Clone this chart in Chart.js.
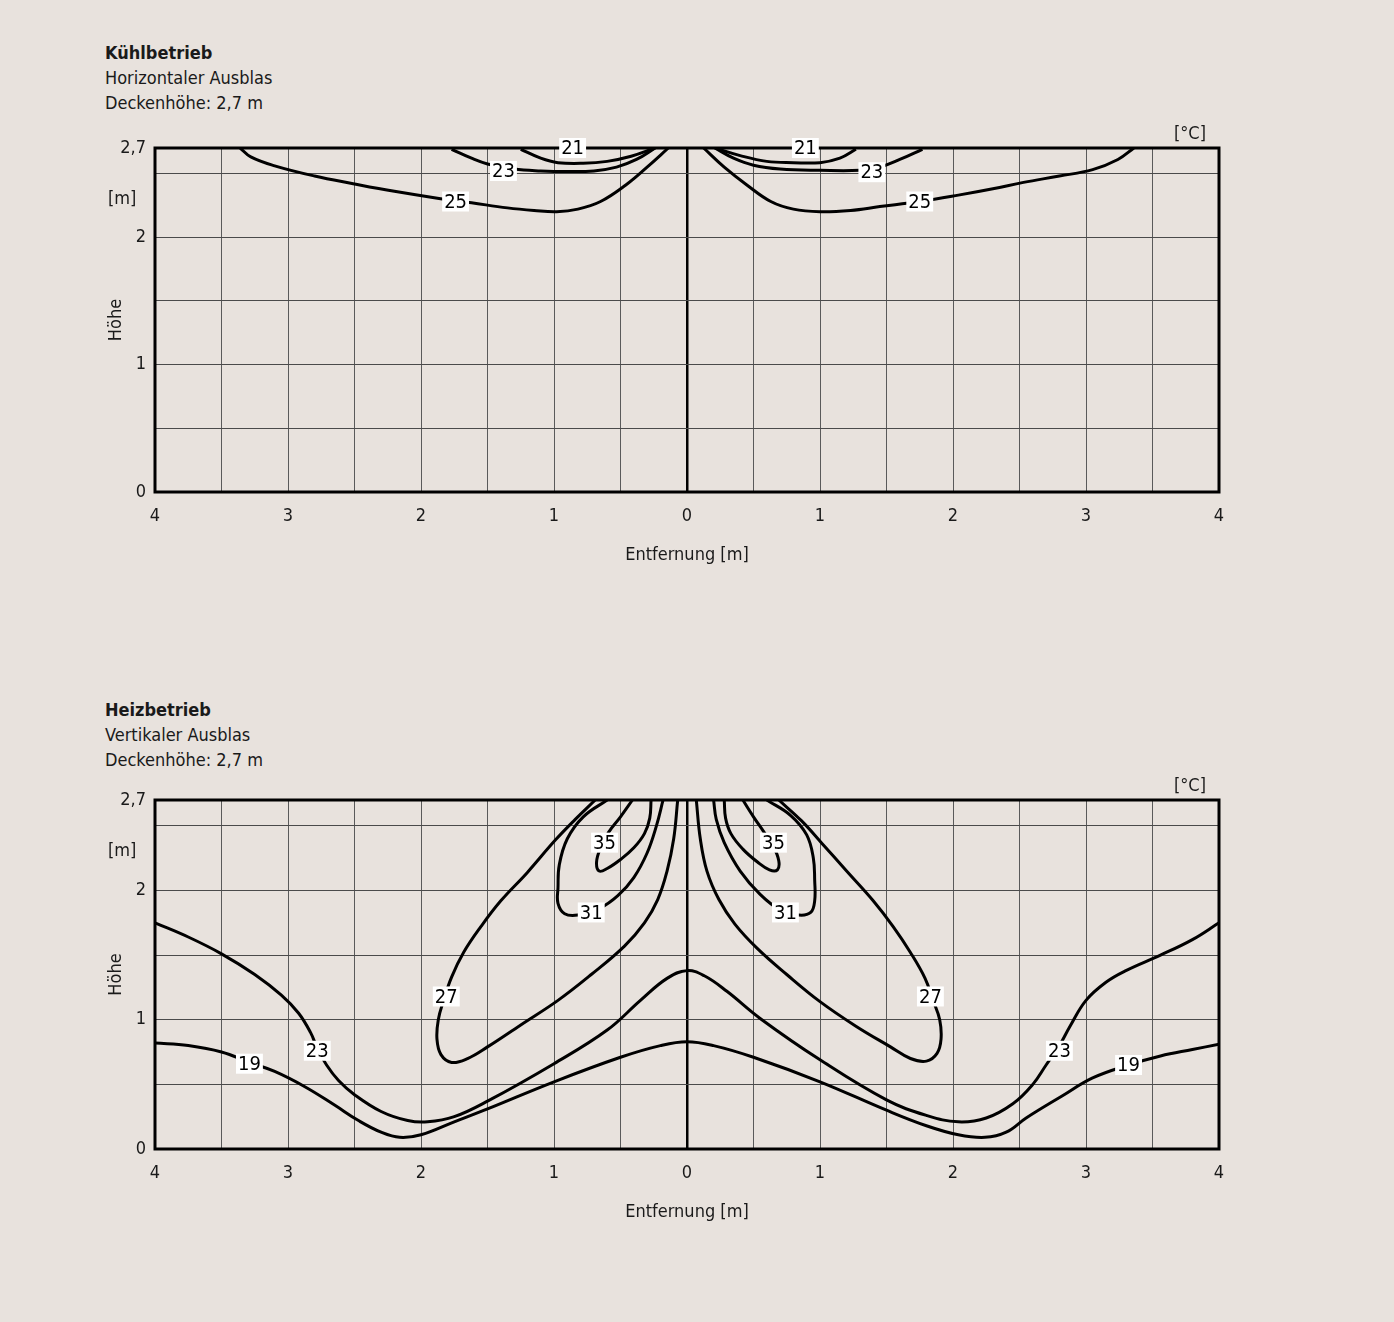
<!DOCTYPE html>
<html>
<head>
<meta charset="utf-8">
<script src="https://cdn.jsdelivr.net/npm/chart.js@4.4.1/dist/chart.umd.min.js"></script>
<style>
  body { margin: 0; background: #e8e2dd; width: 1394px; height: 1322px; position: relative; overflow: hidden;
         font-family: 'Liberation Sans Narrow', 'DejaVu Sans Condensed', 'Roboto', sans-serif; color: #1a1a1a; }
  .head { position: absolute; left: 105px; font-size: 18px; line-height: 25px; }
  .head b { font-weight: bold; }
  canvas { position: absolute; left: 0; }
</style>
</head>
<body>
<div class="head" style="top:40px"><b>Kühlbetrieb</b><br>Horizontaler Ausblas<br>Deckenhöhe: 2,7 m</div>
<canvas id="cool" width="1394" height="460" style="top:125px"></canvas>
<div class="head" style="top:697px"><b>Heizbetrieb</b><br>Vertikaler Ausblas<br>Deckenhöhe: 2,7 m</div>
<canvas id="heat" width="1394" height="465" style="top:777px"></canvas>
<script>
const FONT = "'Liberation Sans Narrow', 'DejaVu Sans Condensed', 'Roboto', sans-serif"

// axis ticks (metres)
const xTickValues = [-4, -3.5, -3, -2.5, -2, -1.5, -1, -0.5, 0, 0.5, 1, 1.5, 2, 2.5, 3, 3.5, 4]
const xTickLabels = ['4', '', '3', '', '2', '', '1', '', '0', '', '1', '', '2', '', '3', '', '4']
const yTickValues = [0, 0.5, 1, 1.5, 2, 2.5, 2.7]
const yTickLabels = ['0', '', '1', '', '2', '', '2,7']

// Kühlbetrieb isotherms [x, y]
const cool21Left = [[-1.25, 2.69], [-1.1, 2.62], [-0.97, 2.585], [-0.78, 2.58], [-0.6, 2.595], [-0.42, 2.635], [-0.24, 2.7]]
const cool23Left = [[-1.77, 2.69], [-1.62, 2.62], [-1.5, 2.575], [-1.3, 2.535], [-1.1, 2.52], [-0.9, 2.515], [-0.7, 2.52], [-0.53, 2.55], [-0.38, 2.61], [-0.24, 2.7]]
const cool25Left = [[-3.36, 2.7], [-3.28, 2.63], [-3.1, 2.56], [-2.8, 2.48], [-2.51, 2.42], [-2.2, 2.36], [-1.9, 2.31], [-1.62, 2.27], [-1.35, 2.23], [-1.15, 2.21], [-0.98, 2.2], [-0.82, 2.22], [-0.65, 2.28], [-0.46, 2.41], [-0.3, 2.55], [-0.14, 2.7]]
const cool21Right = [[0.21, 2.7], [0.4, 2.64], [0.6, 2.595], [0.8, 2.585], [1.0, 2.585], [1.15, 2.62], [1.27, 2.69]]
const cool23Right = [[0.21, 2.7], [0.35, 2.62], [0.5, 2.565], [0.7, 2.535], [1.0, 2.525], [1.3, 2.525], [1.45, 2.55], [1.6, 2.61], [1.77, 2.69]]
const cool25Right = [[0.125, 2.7], [0.28, 2.55], [0.45, 2.41], [0.63, 2.28], [0.8, 2.22], [1.0, 2.2], [1.23, 2.21], [1.45, 2.24], [1.75, 2.28], [2.04, 2.33], [2.3, 2.38], [2.53, 2.43], [2.8, 2.48], [3.05, 2.53], [3.24, 2.61], [3.36, 2.7]]
const coolLabels = [['21', -0.86, 2.7], ['23', -1.38, 2.52], ['25', -1.74, 2.28], ['21', 0.89, 2.7], ['23', 1.39, 2.51], ['25', 1.75, 2.28]]

// Heizbetrieb isotherms [x, y]
const heat35Left = [[-0.41, 2.7], [-0.5, 2.57], [-0.59, 2.45], [-0.65, 2.33], [-0.68, 2.22], [-0.66, 2.15], [-0.6, 2.17], [-0.5, 2.24], [-0.4, 2.33], [-0.32, 2.44], [-0.28, 2.56], [-0.27, 2.7]]
const heat35Right = [[0.28, 2.7], [0.29, 2.56], [0.33, 2.44], [0.42, 2.32], [0.53, 2.22], [0.62, 2.16], [0.68, 2.16], [0.69, 2.23], [0.65, 2.34], [0.58, 2.45], [0.5, 2.57], [0.42, 2.7]]
const heat31Left = [[-0.6, 2.7], [-0.78, 2.57], [-0.9, 2.4], [-0.96, 2.2], [-0.97, 2.02], [-0.97, 1.9], [-0.92, 1.82], [-0.82, 1.81], [-0.66, 1.86], [-0.52, 1.96], [-0.4, 2.1], [-0.3, 2.29], [-0.23, 2.5], [-0.18, 2.7]]
const heat31Right = [[0.2, 2.7], [0.22, 2.55], [0.28, 2.37], [0.4, 2.15], [0.55, 1.97], [0.7, 1.85], [0.84, 1.81], [0.93, 1.83], [0.96, 1.92], [0.96, 2.08], [0.95, 2.25], [0.9, 2.43], [0.78, 2.58], [0.6, 2.7]]
const heat27Left = [[-0.69, 2.7], [-0.84, 2.55], [-0.99, 2.39], [-1.2, 2.14], [-1.4, 1.92], [-1.55, 1.72], [-1.68, 1.52], [-1.77, 1.33], [-1.83, 1.15], [-1.87, 1.0], [-1.88, 0.85], [-1.85, 0.73], [-1.77, 0.67], [-1.65, 0.7], [-1.5, 0.79], [-1.25, 0.96], [-0.97, 1.15], [-0.72, 1.35], [-0.47, 1.57], [-0.32, 1.75], [-0.22, 1.93], [-0.15, 2.15], [-0.1, 2.4], [-0.07, 2.7]]
const heat27Right = [[0.07, 2.7], [0.1, 2.4], [0.15, 2.15], [0.24, 1.93], [0.36, 1.74], [0.53, 1.55], [0.75, 1.35], [1.0, 1.14], [1.27, 0.95], [1.53, 0.79], [1.68, 0.7], [1.8, 0.68], [1.88, 0.74], [1.91, 0.85], [1.9, 1.0], [1.85, 1.15], [1.79, 1.32], [1.68, 1.52], [1.55, 1.72], [1.4, 1.92], [1.2, 2.15], [1.01, 2.37], [0.86, 2.54], [0.69, 2.7]]
const heat23 = [[-4, 1.75], [-3.75, 1.64], [-3.5, 1.51], [-3.25, 1.35], [-3.05, 1.19], [-2.92, 1.05], [-2.83, 0.9], [-2.78, 0.78], [-2.71, 0.65], [-2.62, 0.53], [-2.5, 0.42], [-2.3, 0.29], [-2.1, 0.22], [-1.95, 0.21], [-1.75, 0.25], [-1.5, 0.37], [-1.0, 0.66], [-0.6, 0.92], [-0.35, 1.15], [-0.15, 1.32], [0, 1.38], [0.13, 1.34], [0.3, 1.22], [0.55, 1.01], [1.0, 0.69], [1.5, 0.38], [1.8, 0.26], [2.04, 0.21], [2.25, 0.24], [2.45, 0.35], [2.6, 0.5], [2.7, 0.65], [2.8, 0.8], [2.88, 0.95], [3.0, 1.15], [3.15, 1.29], [3.3, 1.38], [3.56, 1.5], [3.8, 1.62], [4, 1.75]]
const heat19 = [[-4, 0.82], [-3.75, 0.8], [-3.5, 0.75], [-3.29, 0.67], [-3.1, 0.6], [-2.87, 0.48], [-2.65, 0.34], [-2.47, 0.22], [-2.3, 0.13], [-2.16, 0.09], [-2.0, 0.11], [-1.75, 0.21], [-1.5, 0.31], [-1.0, 0.52], [-0.5, 0.71], [-0.2, 0.8], [0, 0.83], [0.2, 0.8], [0.5, 0.71], [1.0, 0.52], [1.5, 0.3], [1.8, 0.18], [2.04, 0.11], [2.24, 0.09], [2.4, 0.13], [2.55, 0.24], [2.82, 0.41], [3.05, 0.55], [3.32, 0.65], [3.56, 0.72], [3.8, 0.77], [4, 0.81]]
const heatLabels = [['35', -0.62, 2.37], ['35', 0.65, 2.37], ['31', -0.72, 1.83], ['31', 0.74, 1.83], ['27', -1.81, 1.18], ['27', 1.83, 1.18], ['23', -2.78, 0.76], ['23', 2.8, 0.76], ['19', -3.29, 0.66], ['19', 3.32, 0.65]]

// frame, unit texts and isotherm labels
const framePlugin = {
  id: 'frame',
  afterDatasetsDraw(chart, args, opts) {
    const {ctx, chartArea: a, scales} = chart
    ctx.save()
    ctx.strokeStyle = '#000'
    ctx.lineWidth = 3
    ctx.strokeRect(a.left, a.top, a.right - a.left, a.bottom - a.top)

    ctx.fillStyle = '#1a1a1a'
    ctx.font = '18px ' + FONT
    ctx.textBaseline = 'middle'
    ctx.textAlign = 'left'
    ctx.fillText('[m]', 108, scales.y.getPixelForValue(2.3))
    ctx.textAlign = 'right'
    ctx.fillText('[°C]', a.right - 13, a.top - 14)

    ctx.font = '20px ' + FONT
    ctx.textAlign = 'center'
    opts.labels.forEach(([t, x, y]) => {
      const px = scales.x.getPixelForValue(x)
      const py = scales.y.getPixelForValue(y)
      const w = ctx.measureText(t).width + 4
      ctx.fillStyle = '#fff'
      ctx.fillRect(px - w / 2, py - 10, w, 20)
      ctx.fillStyle = '#000'
      ctx.fillText(t, px, py + 1)
    })
    ctx.restore()
  }
}

function lineSet(points) {
  return {
    data: points.map(p => ({x: p[0], y: p[1]})),
    showLine: true,
    borderColor: '#000',
    borderWidth: 3,
    pointRadius: 0,
    tension: 0.4,
    fill: false
  }
}

function makeChart(id, curves, labels) {
  const ctx = document.getElementById(id).getContext('2d')
  return new Chart(ctx, {
    type: 'scatter',
    data: { datasets: curves.map(lineSet) },
    options: {
      responsive: false,
      animation: false,
      layout: { padding: { top: 23, right: 175, left: 0, bottom: 0 } },
      plugins: {
        legend: { display: false },
        tooltip: { enabled: false },
        frame: { labels: labels }
      },
      scales: {
        x: {
          type: 'linear', min: -4, max: 4,
          afterBuildTicks: s => { s.ticks = xTickValues.map(v => ({value: v})) },
          afterFit: s => { s.height = 93 },
          ticks: {
            autoSkip: false, maxRotation: 0, padding: 14, color: '#1a1a1a',
            font: { family: FONT, size: 18 },
            callback: (v, i) => xTickLabels[i]
          },
          grid: {
            drawTicks: false,
            color: c => c.tick && c.tick.value === 0 ? '#000' : '#5a5a5a',
            lineWidth: c => c.tick && c.tick.value === 0 ? 2.5 : 1
          },
          border: { display: false },
          title: {
            display: true, text: 'Entfernung [m]', color: '#1a1a1a',
            font: { family: FONT, size: 18 }, padding: { top: 19, bottom: 19 }
          }
        },
        y: {
          type: 'linear', min: 0, max: 2.7,
          afterBuildTicks: s => { s.ticks = yTickValues.map(v => ({value: v})) },
          afterFit: s => { s.width = 155 },
          ticks: {
            autoSkip: false, padding: 9, color: '#1a1a1a',
            font: { family: FONT, size: 18 },
            callback: (v, i) => yTickLabels[i]
          },
          grid: { drawTicks: false, color: '#4a4a4a', lineWidth: 1 },
          border: { display: false },
          title: {
            display: true, text: 'Höhe', color: '#1a1a1a',
            font: { family: FONT, size: 18 }, padding: { top: 106, bottom: 106 }
          }
        }
      }
    },
    plugins: [framePlugin]
  })
}

makeChart('cool', [cool21Left, cool23Left, cool25Left, cool21Right, cool23Right, cool25Right], coolLabels)
makeChart('heat', [heat35Left, heat35Right, heat31Left, heat31Right, heat27Left, heat27Right, heat23, heat19], heatLabels)
</script>
</body>
</html>
